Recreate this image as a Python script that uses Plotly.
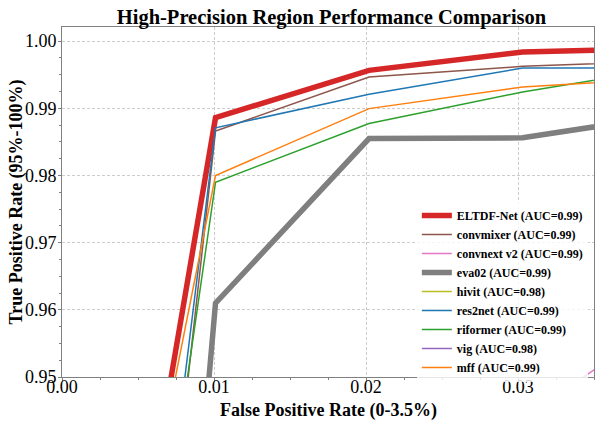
import plotly.graph_objects as go

# ---- data ----
fpr = [0.0, 0.0101, 0.0202, 0.0303, 0.0404]

model_names = ["ELTDF-Net", "convmixer", "convnext v2", "eva02", "hivit",
               "res2net", "riformer", "vig", "mff"]
auc_labels = ["0.99", "0.99", "0.99", "0.99", "0.98", "0.99", "0.99", "0.98", "0.99"]

tpr_eltdf = [0.855, 0.9886, 0.99565, 0.99837, 0.99891]
tpr_convmixer = [0.781, 0.9866, 0.99465, 0.99624, 0.99710]
tpr_convnext = [0.700, 0.880, 0.920, 0.9438, 0.9594]
tpr_eva02 = [0.700, 0.9610, 0.9855, 0.9856, 0.9891]
tpr_hivit = [0.720, 0.860, 0.900, 0.920, 0.940]
tpr_res2net = [0.801, 0.9871, 0.99208, 0.99599, 0.9960]
tpr_riformer = [0.820, 0.9790, 0.98773, 0.99242, 0.99616]
tpr_vig = [0.700, 0.850, 0.890, 0.915, 0.935]
tpr_mff = [0.865, 0.9800, 0.98995, 0.99317, 0.99456]

tpr_all = [tpr_eltdf, tpr_convmixer, tpr_convnext, tpr_eva02, tpr_hivit,
           tpr_res2net, tpr_riformer, tpr_vig, tpr_mff]

colors = ["#d62728", "#8c564b", "#e377c2", "#7f7f7f", "#bcbd22",
          "#1f77b4", "#2ca02c", "#9467bd", "#ff7f0e"]
widths = [5.5, 1.5, 1.5, 5.5, 1.5, 1.5, 1.5, 1.5, 1.5]

x_ticks = [0.0, 0.01, 0.02, 0.03]
y_ticks = [0.95, 0.96, 0.97, 0.98, 0.99, 1.00]

FONT = "Liberation Serif"

fig = go.Figure()
for name, auc, tpr, c, w in zip(model_names, auc_labels, tpr_all, colors, widths):
    fig.add_trace(go.Scatter(
        x=fpr, y=tpr, mode="lines",
        name=f"{name} (AUC={auc})",
        line=dict(color=c, width=w),
    ))

axis_common = dict(
    showline=True, linecolor="#808080", linewidth=1, mirror=True,
    ticks="outside", ticklen=3, tickcolor="#808080",
    showgrid=True, gridcolor="#cccccc", griddash="3px,2px", gridwidth=1,
    zeroline=False, automargin=False,
    tickfont=dict(family=FONT, size=18, color="black"),
    tickformat=".2f",
    minor=dict(ticks="outside", ticklen=2, tickcolor="#808080", dtick=0.0025, showgrid=False),
)

title_font = dict(family=FONT, size=18, color="black", weight="bold")

fig.update_layout(
    width=600, height=425,
    margin=dict(l=62, r=6, t=27, b=48),
    paper_bgcolor="white", plot_bgcolor="white",
    title=dict(
        text="High-Precision Region Performance Comparison",
        font=dict(family=FONT, size=20.5, color="black", weight="bold"),
        x=0.5525, xanchor="center", y=0.961, yanchor="middle",
        automargin=False,
    ),
    xaxis=dict(range=[0, 0.035], tickvals=x_ticks, ticklabelstandoff=-10, **axis_common),
    yaxis=dict(range=[0.95, 1.0021], tickvals=y_ticks, ticklabelstandoff=-2, **axis_common),
    legend=dict(
        x=0.667, xanchor="left", y=-0.014, yanchor="bottom",
        bgcolor="rgba(255,255,255,0.8)", borderwidth=0,
        font=dict(family=FONT, size=12, color="black", weight="bold"),
        tracegroupgap=0, itemwidth=30,
    ),
    showlegend=True,
    annotations=[
        dict(text="False Positive Rate (0-3.5%)", xref="paper", yref="paper",
             x=0.5, y=-0.097, xanchor="center", yanchor="middle",
             showarrow=False, font=title_font),
        dict(text="True Positive Rate (95%-100%)", xref="paper", yref="paper",
             x=-0.0874, y=0.5, xanchor="center", yanchor="middle", textangle=-90,
             showarrow=False, font=title_font),
    ],
)

fig.write_html("out.html", config={"displayModeBar": False},
               post_script="document.body.style.margin='0';")
